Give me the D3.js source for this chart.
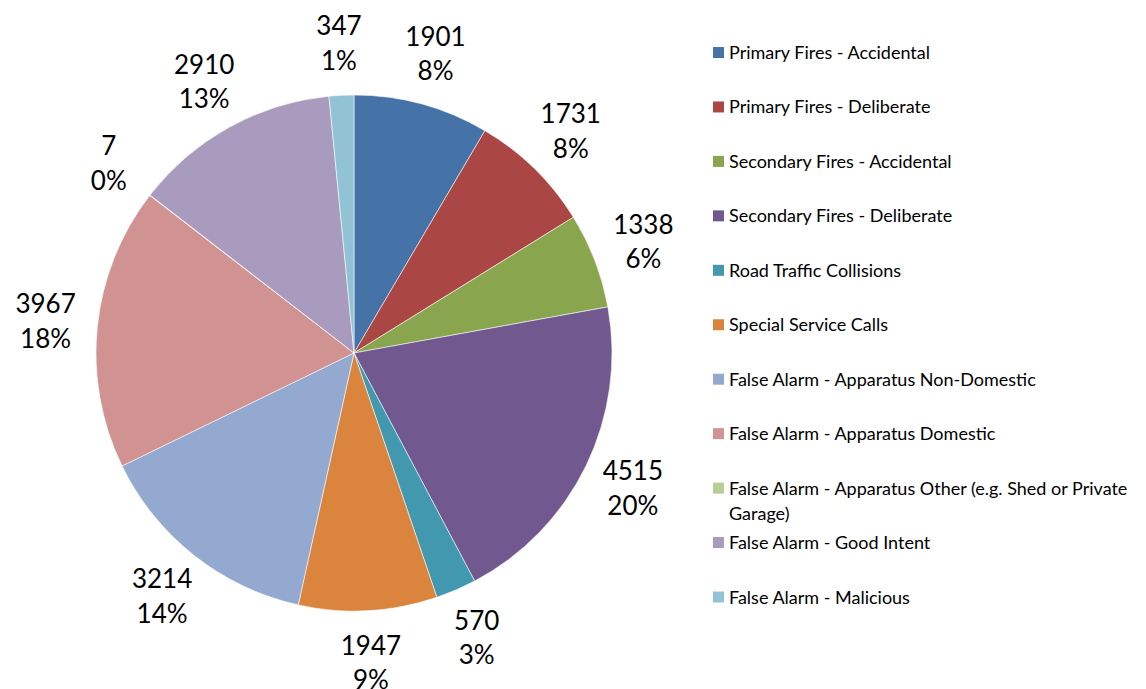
<!DOCTYPE html>
<html><head><meta charset="utf-8">
<script src="https://cdn.jsdelivr.net/npm/d3@7"></script>
<style>body{margin:0;background:#fff}svg{display:block}text{font-family:Lato,"Open Sans",sans-serif;fill:#000}</style>
</head><body><svg id="c" width="1146" height="689"></svg>
<script>
const categories = ["Primary Fires - Accidental","Primary Fires - Deliberate","Secondary Fires - Accidental","Secondary Fires - Deliberate","Road Traffic Collisions","Special Service Calls","False Alarm - Apparatus Non-Domestic","False Alarm - Apparatus Domestic","False Alarm - Apparatus Other (e.g. Shed or Private Garage)","False Alarm - Good Intent","False Alarm - Malicious"];
const values = [1901,1731,1338,4515,570,1947,3214,3967,7,2910,347];
const percentLabels = ["8%","8%","6%","20%","3%","9%","14%","18%","0%","13%","1%"];
const colors = ["#4572A7","#AA4643","#89A54E","#71588F","#4198AF","#DB843D","#93A9CF","#D19392","#B9CD96","#A99BBD","#92C3D5"];
const legendLines = [["Primary Fires - Accidental"],["Primary Fires - Deliberate"],["Secondary Fires - Accidental"],["Secondary Fires - Deliberate"],["Road Traffic Collisions"],["Special Service Calls"],["False Alarm - Apparatus Non-Domestic"],["False Alarm - Apparatus Domestic"],["False Alarm - Apparatus Other (e.g. Shed or Private","Garage)"],["False Alarm - Good Intent"],["False Alarm - Malicious"]];

const svg = d3.select("#c");
const cx = 354, cy = 353, r = 258, lr = 310;
const pie = d3.pie().sort(null).value(d => d)(values);
const arc = d3.arc().innerRadius(0).outerRadius(r);
const g = svg.append("g").attr("transform", `translate(${cx},${cy})`);
g.selectAll("path").data(pie).join("path")
  .attr("d", arc).attr("fill", (d,i) => colors[i])
  .attr("stroke", "#fff").attr("stroke-width", 0.8).attr("stroke-opacity", 0.7);
const larc = d3.arc().innerRadius(lr).outerRadius(lr);
const lab = g.selectAll("g.lab").data(pie).join("g").attr("class","lab")
  .attr("transform", d => `translate(${larc.centroid(d)})`);
lab.append("text").attr("text-anchor","middle").attr("y",-8).style("font-size","26px").text(d => d.data);
lab.append("text").attr("text-anchor","middle").attr("y",26.5).style("font-size","26px").text((d,i) => percentLabels[i]);

const ly = d3.scaleLinear().domain([0, categories.length-1]).range([52.5, 597]);
const lg = svg.append("g").selectAll("g").data(categories).join("g")
  .attr("transform", (d,i) => `translate(713,${ly(i)})`);
lg.append("rect").attr("x",0).attr("y",-5.5).attr("width",11).attr("height",11).attr("fill",(d,i)=>colors[i]);
lg.each(function(d,i){
  const t = d3.select(this).append("text").attr("x",16).attr("y",6.5).style("font-size","18px");
  legendLines[i].forEach((s,k) => t.append("tspan").attr("x",16).attr("dy", k===0?0:25).text(s));
});
</script></body></html>
